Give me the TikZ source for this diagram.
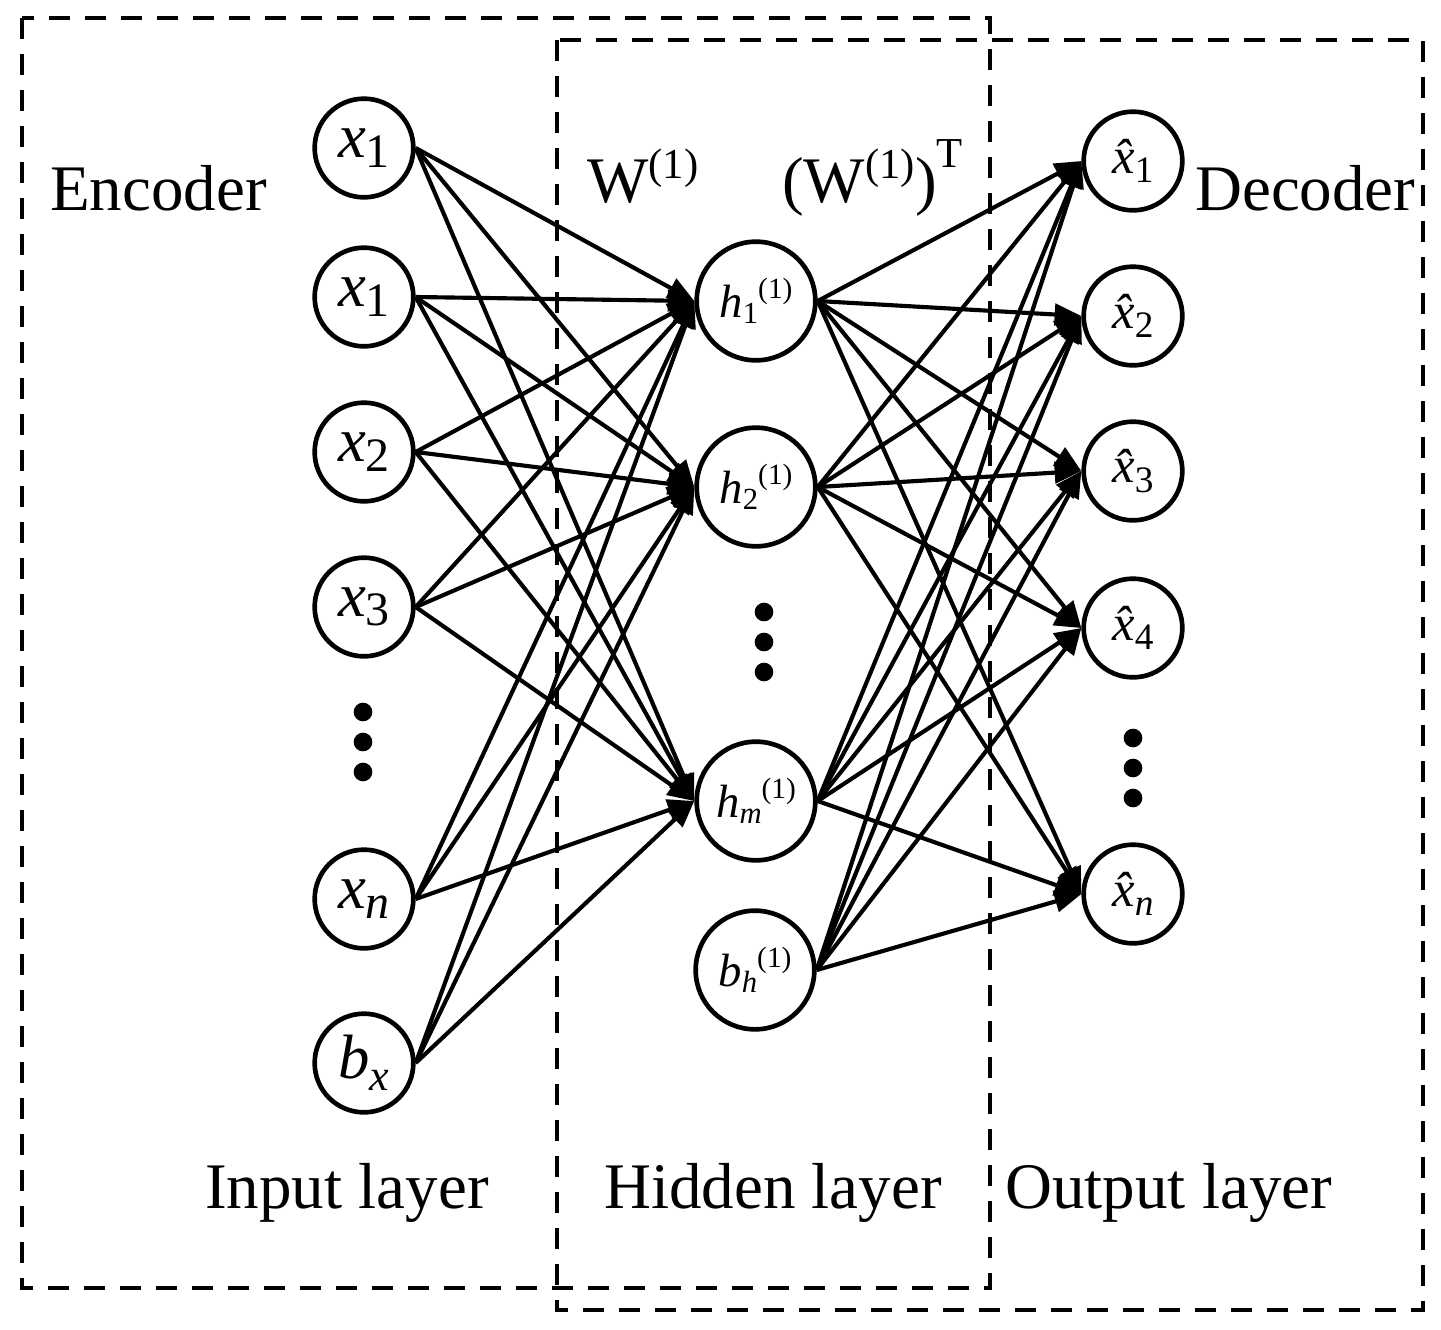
\documentclass[tikz,border=0pt]{standalone}
\usepackage{fontspec}
\setmainfont{Liberation Serif}
\usetikzlibrary{arrows.meta}
\newcommand\invar[3][-7pt]{{\fontsize{47}{47}\selectfont\itshape #2}\raisebox{#1}{\fontsize{36}{36}\selectfont #3}}
\newcommand\hvar[2]{{\fontsize{35}{35}\selectfont\itshape #1}\raisebox{-5pt}{\fontsize{23}{23}\selectfont #2}\raisebox{14pt}{\fontsize{22}{22}\selectfont (1)}}
\newcommand\ovar[1]{{\fontsize{38}{38}\selectfont\itshape \^{x}}\raisebox{-7pt}{\fontsize{28}{28}\selectfont #1}}
\begin{document}
\begin{tikzpicture}[x=0.75pt,y=-0.75pt,
  innode/.style={circle,draw,line width=3.5pt,minimum size=74pt,inner sep=0pt,fill=white},
  hidnode/.style={circle,draw,line width=3.5pt,minimum size=89pt,inner sep=0pt,fill=white},
  conn/.style={line width=3.1pt,-{Triangle[length=20pt,width=16pt]}},
  dashbox/.style={line width=3.4pt,dash pattern=on 16pt off 11pt},
  lbl/.style={anchor=base west,inner sep=0pt,font=\fontsize{48.75}{58}\selectfont},
  bigdot/.style={circle,fill,minimum size=14pt,inner sep=0pt}]
\useasboundingbox (0,0) rectangle (1441,1329);
% dashed boxes
\draw[dashbox] (22,18) rectangle (990,1288);
\draw[dashbox] (557,40) rectangle (1423,1310);
% input layer
\node[innode] (i1) at (364,148) {\invar{x}{1}};
\node[innode] (i2) at (364,297) {\invar{x}{1}};
\node[innode] (i3) at (364,452) {\invar{x}{2}};
\node[innode] (i4) at (364,607) {\invar{x}{3}};
\node[innode] (in) at (364,899) {\invar{x}{\itshape n}};
\node[innode] (ib) at (364,1063) {\invar[-9pt]{b}{\fontsize{33}{33}\selectfont\itshape x}};
\node[bigdot] (id1) at (363,712) {};
\node[bigdot] (id2) at (363,742) {};
\node[bigdot] (id3) at (363,772) {};
% hidden layer
\node[hidnode] (h1) at (756,301) {\hvar{h}{1}};
\node[hidnode] (h2) at (756,487) {\hvar{h}{2}};
\node[hidnode] (hm) at (756,801) {\hvar{h}{\itshape m}};
\node[hidnode] (hb) at (755,970) {\hvar{b}{\itshape h}};
\node[bigdot] (hd1) at (764,612) {};
\node[bigdot] (hd2) at (764,642) {};
\node[bigdot] (hd3) at (764,672) {};
% output layer
\node[innode] (o1) at (1133,161) {\ovar{1}};
\node[innode] (o2) at (1133,316) {\ovar{2}};
\node[innode] (o3) at (1133,471) {\ovar{3}};
\node[innode] (o4) at (1133,628) {\ovar{4}};
\node[innode] (on) at (1133,894) {\ovar{\itshape n}};
\node[bigdot] (od1) at (1133,738) {};
\node[bigdot] (od2) at (1133,768) {};
\node[bigdot] (od3) at (1133,798) {};
% connections
\foreach \s in {i1,i2,i3,i4,in,ib}
  \foreach \t in {h1,h2,hm}
    \draw[conn] (\s.east) -- (\t.west);
\foreach \s in {h1,h2,hm,hb}
  \foreach \t in {o1,o2,o3,o4,on}
    \draw[conn] (\s.east) -- (\t.west);
% labels
\node[lbl] (enc) at (50,210) {Encoder};
\node[lbl] (dec) at (1195,210) {Decoder};
\node[lbl] (w1) at (587,202) {W\raisebox{18pt}{\fontsize{32}{32}\selectfont (1)}};
\node[lbl] (w1t) at (782,202) {(W\raisebox{18pt}{\fontsize{32}{32}\selectfont (1)})\raisebox{26pt}{\fontsize{32}{32}\selectfont T}};
\node[lbl] (inl) at (205,1208) {Input layer};
\node[lbl] (hidl) at (604,1208) {Hidden layer};
\node[lbl] (outl) at (1005,1208) {Output layer};
\end{tikzpicture}
\end{document}
